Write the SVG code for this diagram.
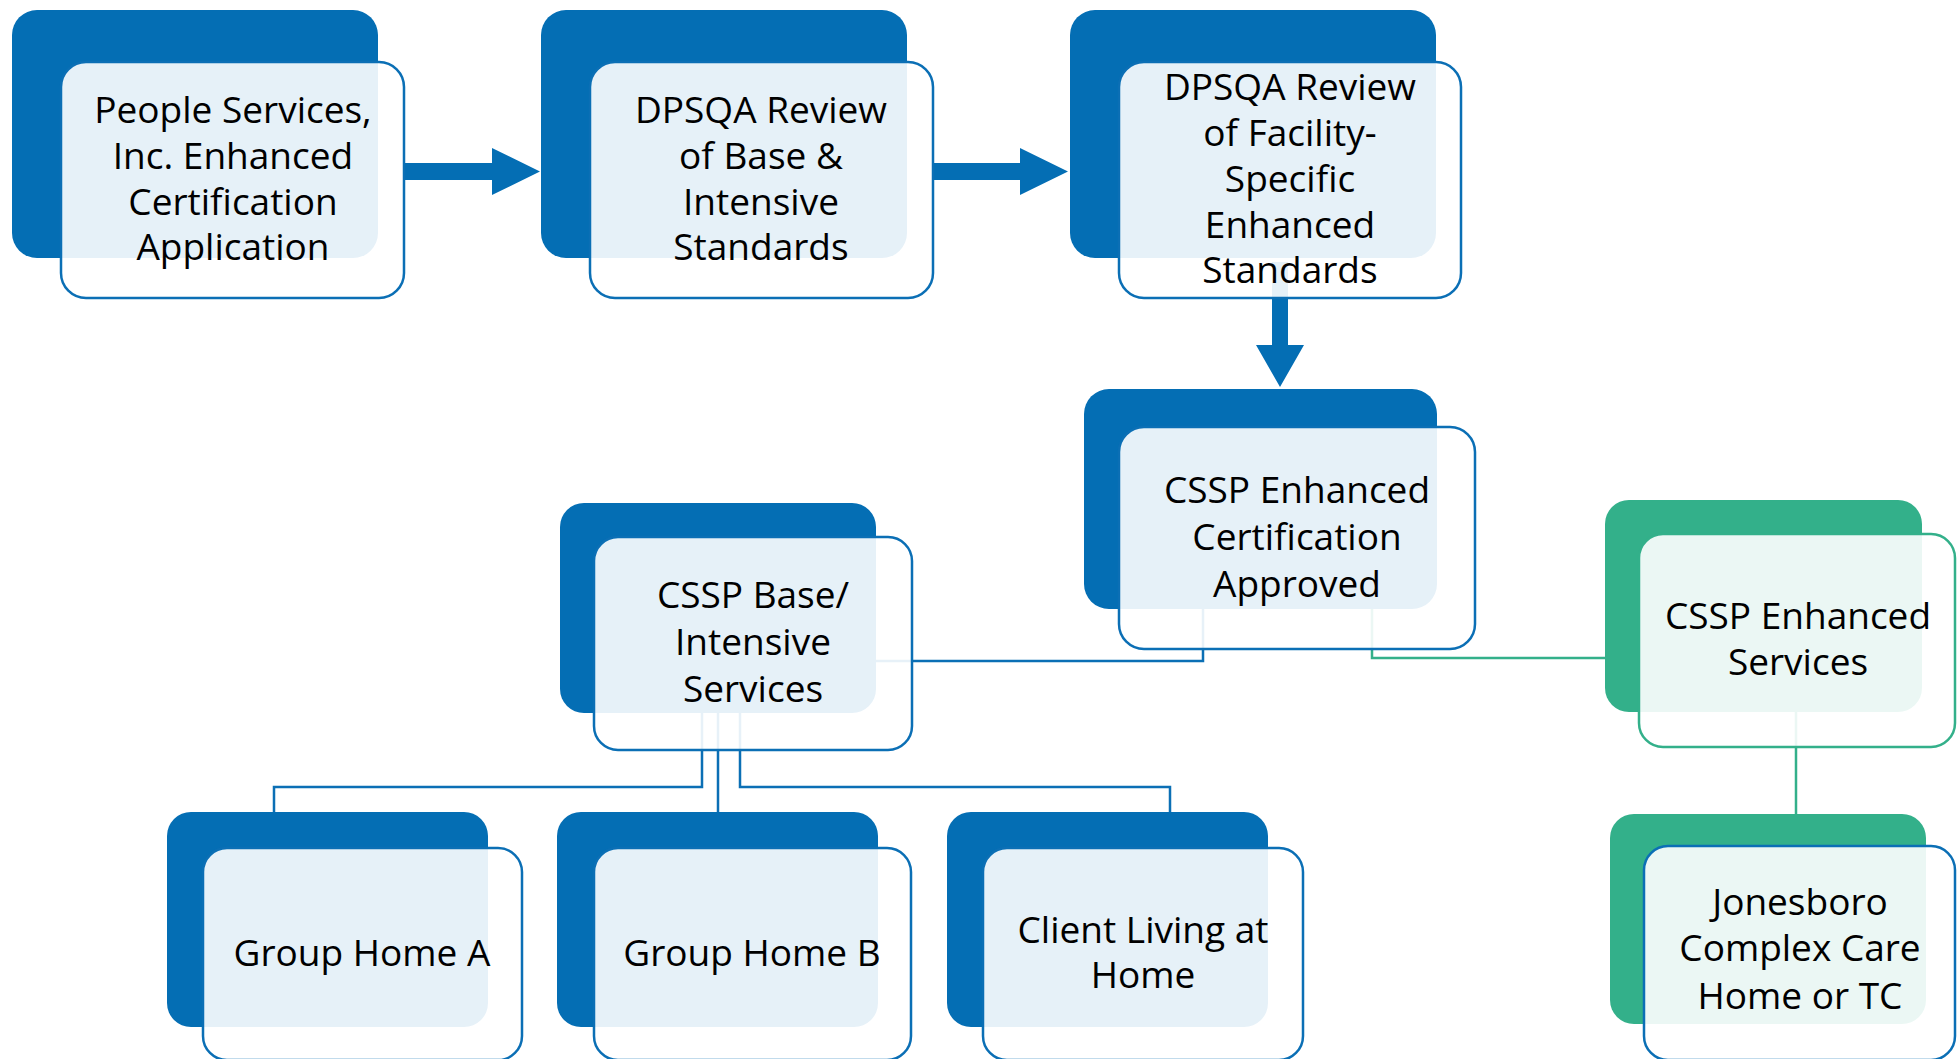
<svg xmlns="http://www.w3.org/2000/svg" width="1957" height="1059" viewBox="0 0 1957 1059">
<style>
.bg{fill:#046EB4}
.bgg{fill:#33B08A}
.fr{fill:#FFFFFF;fill-opacity:0.9;stroke:#0B6FB5;stroke-width:2.5}
.frg{fill:#FFFFFF;fill-opacity:0.9;stroke:#33B08A;stroke-width:2.5}
.t{font-family:"Open Sans","Noto Sans","Liberation Sans",sans-serif;font-size:37px;fill:#000;text-anchor:middle}
.cb{fill:none;stroke:#0B6FB5;stroke-width:2.5}
.cg{fill:none;stroke:#33B08A;stroke-width:2.5}
.ar{fill:#046EB4}
</style>
<rect width="1957" height="1059" fill="#FFFFFF"/>
<g id="connectors">
  <polygon class="ar" points="404,163 492,163 492,148 540,171.5 492,195 492,180 404,180"/>
  <polygon class="ar" points="933,163 1020,163 1020,148 1068,171.5 1020,195 1020,180 933,180"/>
  <polygon class="ar" points="1272,262 1288,262 1288,345 1304,345 1280,387 1256,345 1272,345"/>
  <polyline class="cb" points="870,661 1203,661 1203,600"/>
  <polyline class="cg" points="1372,600 1372,658 1605,658"/>
  <line class="cg" x1="1796" y1="705" x2="1796" y2="814"/>
  <polyline class="cb" points="702,705 702,787 274,787 274,812"/>
  <line class="cb" x1="718" y1="705" x2="718" y2="812"/>
  <polyline class="cb" points="740,705 740,787 1170,787 1170,812"/>
</g>
<g id="node1">
  <rect class="bg" x="12" y="10" width="366" height="248" rx="25"/>
  <rect class="fr" x="61" y="62" width="343" height="236" rx="25"/>
  <text class="t"><tspan x="233" y="123">People Services,</tspan><tspan x="233" y="169">Inc. Enhanced</tspan><tspan x="233" y="215">Certification</tspan><tspan x="233" y="260">Application</tspan></text>
</g>
<g id="node2">
  <rect class="bg" x="541" y="10" width="366" height="248" rx="25"/>
  <rect class="fr" x="590" y="62" width="343" height="236" rx="25"/>
  <text class="t"><tspan x="761" y="123">DPSQA Review</tspan><tspan x="761" y="169">of Base &amp;</tspan><tspan x="761" y="215">Intensive</tspan><tspan x="761" y="260">Standards</tspan></text>
</g>
<g id="node3">
  <rect class="bg" x="1070" y="10" width="366" height="248" rx="25"/>
  <rect class="fr" x="1119" y="62" width="342" height="236" rx="25"/>
  <text class="t"><tspan x="1290" y="100">DPSQA Review</tspan><tspan x="1290" y="146">of Facility-</tspan><tspan x="1290" y="192">Specific</tspan><tspan x="1290" y="238">Enhanced</tspan><tspan x="1290" y="283">Standards</tspan></text>
</g>
<g id="node4">
  <rect class="bg" x="1084" y="389" width="353" height="220" rx="25"/>
  <rect class="fr" x="1119" y="427" width="356" height="222" rx="25"/>
  <text class="t"><tspan x="1297" y="503">CSSP Enhanced</tspan><tspan x="1297" y="550">Certification</tspan><tspan x="1297" y="597">Approved</tspan></text>
</g>
<g id="node5">
  <rect class="bg" x="560" y="503" width="316" height="210" rx="24"/>
  <rect class="fr" x="594" y="537" width="318" height="213" rx="24"/>
  <text class="t"><tspan x="753" y="608">CSSP Base/</tspan><tspan x="753" y="655">Intensive</tspan><tspan x="753" y="702">Services</tspan></text>
</g>
<g id="node6">
  <rect class="bgg" x="1605" y="500" width="317" height="212" rx="24"/>
  <rect class="frg" x="1639" y="534" width="316" height="213" rx="24"/>
  <text class="t"><tspan x="1798" y="629">CSSP Enhanced</tspan><tspan x="1798" y="675">Services</tspan></text>
</g>
<g id="node7">
  <rect class="bgg" x="1610" y="814" width="316" height="210" rx="24"/>
  <rect class="fr" x="1644" y="846" width="311" height="214" rx="24"/>
  <text class="t"><tspan x="1800" y="915">Jonesboro</tspan><tspan x="1800" y="961">Complex Care</tspan><tspan x="1800" y="1009">Home or TC</tspan></text>
</g>
<g id="node8">
  <rect class="bg" x="167" y="812" width="321" height="215" rx="24"/>
  <rect class="fr" x="203" y="848" width="319" height="212" rx="24"/>
  <text class="t" x="362" y="966">Group Home A</text>
</g>
<g id="node9">
  <rect class="bg" x="557" y="812" width="321" height="215" rx="24"/>
  <rect class="fr" x="594" y="848" width="317" height="212" rx="24"/>
  <text class="t" x="752" y="966">Group Home B</text>
</g>
<g id="node10">
  <rect class="bg" x="947" y="812" width="321" height="215" rx="24"/>
  <rect class="fr" x="983" y="848" width="320" height="212" rx="24"/>
  <text class="t"><tspan x="1143" y="943">Client Living at</tspan><tspan x="1143" y="988">Home</tspan></text>
</g>
</svg>
